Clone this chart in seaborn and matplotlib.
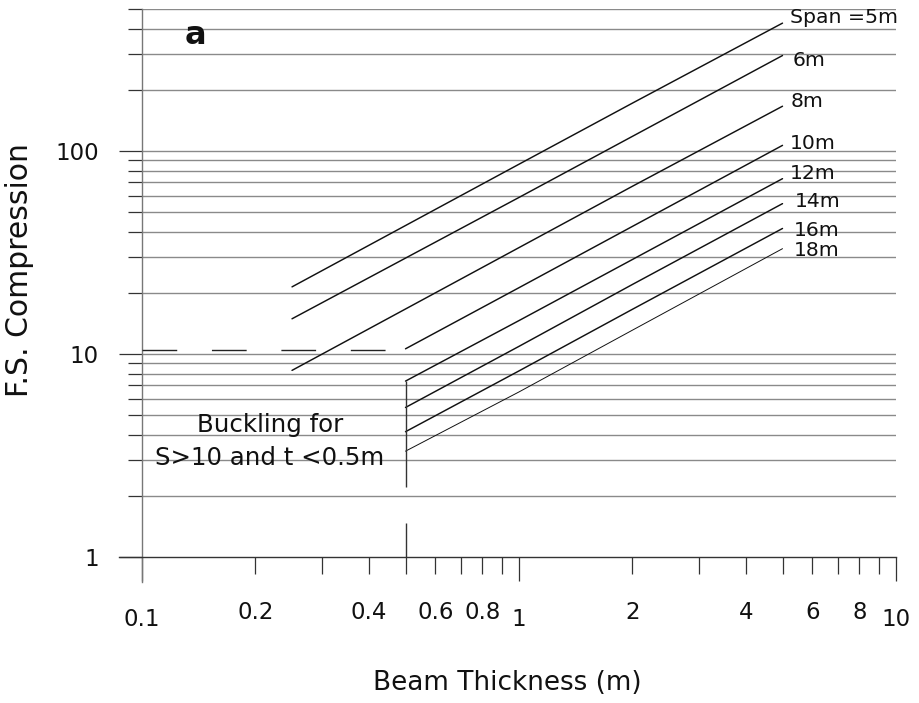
import numpy as np
import pandas as pd
import matplotlib
matplotlib.use("Agg")
import matplotlib.pyplot as plt
import seaborn as sns

# ---------------- data ----------------
spans = ["5m", "6m", "8m", "10m", "12m", "14m", "16m", "18m"]
span_labels = ["Span =5m", "6m", "8m", "10m", "12m", "14m", "16m", "18m"]
t_short = [0.25, 1, 2, 5]      # 5, 6, 8 m spans
t_long = [0.5, 1, 2, 5]        # 10 .. 18 m spans
fs_5 = [21.4, 86, 172, 426]
fs_6 = [14.9, 59, 118, 295]
fs_8 = [8.3, 33.4, 67, 166]
fs_10 = [10.6, 21.2, 42.5, 106.5]
fs_12 = [7.35, 14.6, 29.2, 73]
fs_14 = [5.45, 10.9, 22, 55]
fs_16 = [4.14, 8.25, 16.6, 41.5]
fs_18 = [3.32, 6.5, 13.1, 33]

# label anchor points (t, FS) at the line ends
label_t = [5.24, 5.33, 5.27, 5.24, 5.24, 5.40, 5.37, 5.37]
label_fs = [428.7, 260.6, 164, 102.3, 72.8, 53.1, 38.1, 30.4]

# buckling limit
buckling_t = [0.1, 0.5]
buckling_fs = [10.5, 10.5]
buck_mark_t = 0.5
buck_mark_lo = [2.2, 1.0]
buck_mark_hi = [7.35, 1.47]

# axes ticks
x_major = [0.1, 1, 10]
x_major_labels = ["0.1", "1", "10"]
x_minor = [0.2, 0.3, 0.4, 0.5, 0.6, 0.7, 0.8, 0.9, 2, 3, 4, 5, 6, 7, 8, 9]
x_minor_labels = ["0.2", "", "0.4", "", "0.6", "", "0.8", "", "2", "", "4", "", "6", "", "8", ""]
y_major = [1, 10, 100]
y_major_labels = ["1", "10", "100"]
y_minor = [2, 3, 4, 5, 6, 7, 8, 9, 20, 30, 40, 50, 60, 70, 80, 90, 200, 300, 400, 500]

# ---------------- build table ----------------
series = [fs_5, fs_6, fs_8, fs_10, fs_12, fs_14, fs_16, fs_18]
rows = []
for i, (sp, vals) in enumerate(zip(spans, series)):
    tt = t_short if i < 3 else t_long
    for t, v in zip(tt, vals):
        rows.append({"span": sp, "t": t, "fs": v})
df = pd.DataFrame(rows)

# ---------------- plot ----------------
sns.set_style("ticks")
plt.rcParams["font.family"] = ["DejaVu Sans"]

fig = plt.figure(figsize=(9.2, 7.03), dpi=100)
ax = fig.add_axes([119 / 920, 121 / 703, 777 / 920, 573 / 703])
ax.set_xscale("log")
ax.set_yscale("log")

# horizontal grid lines
ax.hlines(y_minor + y_major[1:], 0.1, 10, color="#8a8a8a", lw=1.0, zorder=1)

line_w = {sp: 1.05 for sp in spans}
line_w["18m"] = 0.7
for sp in spans:
    sub = df[df["span"] == sp]
    sns.lineplot(data=sub, x="t", y="fs", color="#111111", lw=line_w[sp],
                 estimator=None, sort=False, ax=ax, zorder=3)

# buckling limit
ax.plot(buckling_t, buckling_fs, color="#222222", lw=1.0, dashes=(25, 25), zorder=3)
ax.vlines([buck_mark_t, buck_mark_t], buck_mark_lo, buck_mark_hi, color="#333333", lw=1.0, zorder=3)

for lbl, lt, lf in zip(span_labels, label_t, label_fs):
    ax.text(lt, lf, lbl, ha="left", va="baseline", fontsize=14.7, color="#111111")

ax.text(0.2186, 4.14, "Buckling for", ha="center", va="baseline", fontsize=17.6, color="#111111")
ax.text(0.2186, 2.84, "S>10 and t <0.5m", ha="center", va="baseline", fontsize=17.6, color="#111111")
ax.text(0.130, 336.5, "a", ha="left", va="baseline", fontsize=23, fontweight="bold", color="#111111")

ax.set_xlim(0.0869, 10)
ax.set_ylim(0.753, 500)

ax.set_xticks(x_major, x_major_labels)
ax.set_xticks(x_minor, x_minor_labels, minor=True)
ax.set_yticks(y_major, y_major_labels)
ax.set_yticks(y_minor, [""] * len(y_minor), minor=True)

ax.tick_params(axis="x", which="major", length=17.3, width=0.9, pad=19.5,
               labelsize=16.5, direction="out", color="#333333", labelcolor="#111111")
ax.tick_params(axis="x", which="minor", length=12.2, width=0.9, pad=19.5,
               labelsize=16.5, direction="out", color="#333333", labelcolor="#111111")
ax.tick_params(axis="y", which="major", length=16.6, width=0.9, pad=14.4,
               labelsize=16.5, direction="out", color="#333333", labelcolor="#111111")
ax.tick_params(axis="y", which="minor", length=10, width=0.9, direction="out", color="#333333")

for s in ["top", "right"]:
    ax.spines[s].set_visible(False)
ax.spines["left"].set_position(("data", 0.1))
ax.spines["bottom"].set_position(("data", 1))
ax.spines["left"].set_color("#777777")
ax.spines["bottom"].set_color("#333333")
ax.spines["left"].set_linewidth(1.0)
ax.spines["bottom"].set_linewidth(1.0)

ax.set_xlabel("Beam Thickness (m)", fontsize=18.9, color="#111111")
ax.set_ylabel("F.S. Compression", fontsize=21.5, color="#111111")
ax.xaxis.set_label_coords(0.5, -0.1536)
ax.yaxis.set_label_coords(-0.1088, 0.5445)

fig.savefig("out.png", dpi=100)
